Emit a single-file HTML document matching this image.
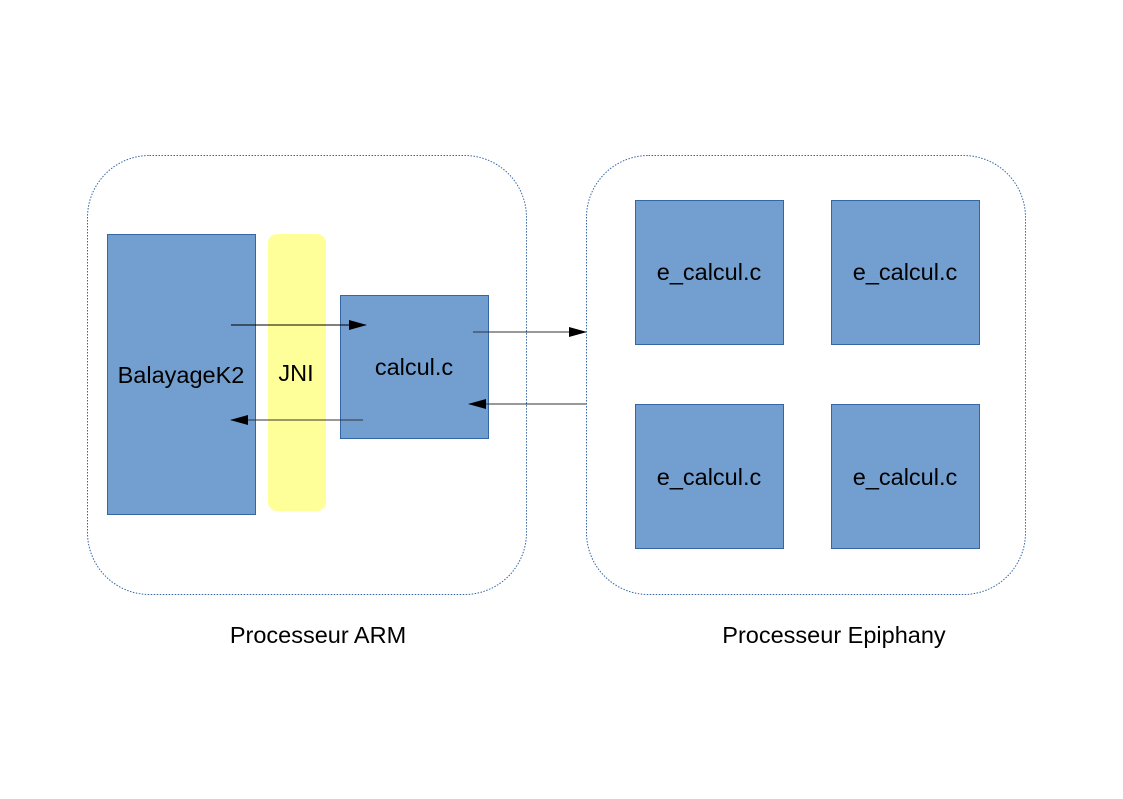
<!DOCTYPE html>
<html><head><meta charset="utf-8"><style>
body{margin:0;background:#fff;width:1123px;height:794px;overflow:hidden;font-family:"Liberation Sans",sans-serif}
</style></head><body>
<svg width="1123" height="794" xmlns="http://www.w3.org/2000/svg" font-family="Liberation Sans, sans-serif" font-size="23.5">
<defs><marker id="a" markerWidth="18" markerHeight="10" refX="17" refY="5" orient="auto" markerUnits="userSpaceOnUse"><path d="M0,0 L18,5 L0,10 z" fill="#000"/></marker></defs>
<rect x="87.5" y="155.5" width="439" height="439" rx="62" fill="none" stroke="#3465a4" stroke-width="1" stroke-dasharray="1.5,1.5"/>
<rect x="586.5" y="155.5" width="439" height="439" rx="62" fill="none" stroke="#3465a4" stroke-width="1" stroke-dasharray="1.5,1.5"/>
<rect x="107.5" y="234.5" width="148" height="280" fill="#729fcf" stroke="#3465a4"/>
<rect x="268" y="234" width="58" height="277" rx="9" fill="#ffff99"/>
<rect x="340.5" y="295.5" width="148" height="143" fill="#729fcf" stroke="#3465a4"/>
<rect x="635.5" y="200.5" width="148" height="144" fill="#729fcf" stroke="#3465a4"/>
<rect x="831.5" y="200.5" width="148" height="144" fill="#729fcf" stroke="#3465a4"/>
<rect x="635.5" y="404.5" width="148" height="144" fill="#729fcf" stroke="#3465a4"/>
<rect x="831.5" y="404.5" width="148" height="144" fill="#729fcf" stroke="#3465a4"/>
<line x1="231" y1="325" x2="366" y2="325" stroke="#000" marker-end="url(#a)"/>
<line x1="363" y1="420" x2="231" y2="420" stroke="#333" marker-end="url(#a)"/>
<line x1="473" y1="332" x2="586" y2="332" stroke="#333" marker-end="url(#a)"/>
<line x1="586" y1="404" x2="469" y2="404" stroke="#333" marker-end="url(#a)"/>
<g fill="#000" text-anchor="middle">
<text x="181" y="383">BalayageK2</text>
<text x="296" y="381">JNI</text>
<text x="414" y="375">calcul.c</text>
<text x="709" y="280">e_calcul.c</text>
<text x="905" y="280">e_calcul.c</text>
<text x="709" y="485">e_calcul.c</text>
<text x="905" y="485">e_calcul.c</text>
<text x="318" y="643">Processeur ARM</text>
<text x="834" y="643">Processeur Epiphany</text>
</g>
</svg>
</body></html>
